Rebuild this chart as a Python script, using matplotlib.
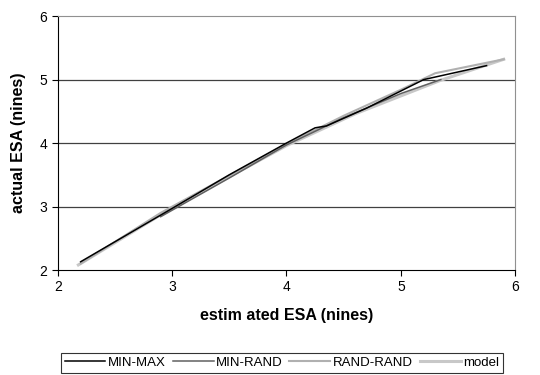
import matplotlib.pyplot as plt

plt.rcParams['font.family'] = ['Liberation Sans', 'DejaVu Sans']

# curves: estimated ESA vs actual ESA (in nines)
minmax_x = [2.2, 3.0, 3.5, 4.0, 4.25, 4.35, 4.7, 5.0, 5.2, 5.75]
minmax_y = [2.13, 2.97, 3.5, 4.0, 4.24, 4.27, 4.55, 4.82, 5.0, 5.22]

minrand_x = [2.9, 3.5, 4.0, 4.5, 5.0, 5.35]
minrand_y = [2.84, 3.45, 3.97, 4.4, 4.78, 5.0]

randrand_x = [2.2, 2.9, 3.5, 4.0, 4.5, 5.0, 5.3, 5.9]
randrand_y = [2.1, 2.9, 3.49, 3.98, 4.43, 4.84, 5.1, 5.32]

model_x = [2.18, 2.9, 3.5, 4.0, 4.6, 5.35, 5.9]
model_y = [2.08, 2.87, 3.47, 3.96, 4.46, 4.99, 5.32]

fig = plt.figure(figsize=(5.4, 3.75), dpi=100)
ax = fig.add_axes([0.107, 0.28, 0.847, 0.677])

for y in [3, 4, 5]:
    ax.axhline(y, color='#404040', lw=0.9, zorder=1)

ax.plot(model_x, model_y, color='#c8c8c8', lw=2.2, label='model', zorder=2)
ax.plot(randrand_x, randrand_y, color='#b0b0b0', lw=1.5, label='RAND-RAND', zorder=3)
ax.plot(minrand_x, minrand_y, color='#606060', lw=1.1, label='MIN-RAND', zorder=4)
ax.plot(minmax_x, minmax_y, color='black', lw=1.1, label='MIN-MAX', zorder=5)

ax.set_xlim(2, 6)
ax.set_ylim(2, 6)
ax.set_xticks([2, 3, 4, 5, 6])
ax.set_yticks([2, 3, 4, 5, 6])
ax.tick_params(labelsize=10, length=4, width=0.8, color='black', direction='out')

ax.spines['left'].set_color('black')
ax.spines['bottom'].set_color('black')
ax.spines['top'].set_color('#909090')
ax.spines['right'].set_color('#909090')

ax.set_xlabel('estim ated ESA (nines)', fontsize=11.5, fontweight='bold', labelpad=10)
ax.set_ylabel('actual ESA (nines)', fontsize=11.5, fontweight='bold', labelpad=10)

handles, labels = ax.get_legend_handles_labels()
order = ['MIN-MAX', 'MIN-RAND', 'RAND-RAND', 'model']
hl = dict(zip(labels, handles))
leg = fig.legend([hl[k] for k in order], order, loc='center', bbox_to_anchor=(0.522, 0.033),
                 ncol=4, fontsize=9.5, frameon=True, fancybox=False, handlelength=3.1,
                 handletextpad=0.2, columnspacing=0.5, borderpad=0.3, borderaxespad=0)
leg.get_frame().set_edgecolor('black')
leg.get_frame().set_linewidth(0.8)

fig.savefig('out.png', dpi=100)
